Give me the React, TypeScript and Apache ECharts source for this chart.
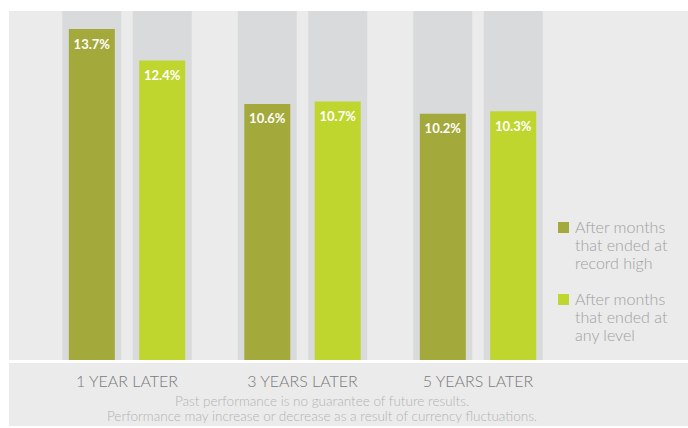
import React, { useEffect, useRef } from "react";
import * as echarts from "echarts";

const categories = ["1 YEAR LATER", "3 YEARS LATER", "5 YEARS LATER"];
const seriesNames = ["After months\nthat ended at\nrecord high", "After months\nthat ended at\nany level"];
const recordHigh = [13.7, 10.6, 10.2];
const anyLevel = [12.4, 10.7, 10.3];
const footnotes = [
  "Past performance is no guarantee of future results.",
  "Performance may increase or decrease as a result of currency fluctuations.",
];
const colors = ["#A3A93A", "#BFD62F"];
const yMax = 14.45;

export default function App() {
  const ref = useRef<HTMLDivElement>(null);
  useEffect(() => {
    document.body.style.margin = "0";
    const chart = echarts.init(ref.current!, null, { renderer: "svg" });
    const font = "Lato, 'Open Sans', sans-serif";
    const bgData = categories.map(() => yMax);
    chart.setOption({
      animation: false,
      graphic: [
        { type: "rect", z: -10, shape: { x: 9, y: 11, width: 679, height: 349 }, style: { fill: "#EBEBEB" } },
        { type: "rect", z: -10, shape: { x: 9, y: 363, width: 679, height: 63 }, style: { fill: "#EBEBEB" } },
        ...footnotes.map((t, i) => ({
          type: "text",
          x: 322,
          y: 401 + i * 15,
          style: { text: t, fill: "#B3B3B3", font: `300 13.5px ${font}`, textAlign: "center", textVerticalAlign: "middle" },
        })),
        ...seriesNames.map((n, i) => ({
          type: "group",
          children: [
            { type: "rect", shape: { x: 558, y: 222 + i * 72, width: 11, height: 11 }, style: { fill: colors[i] } },
            {
              type: "text",
              x: 575,
              y: 217 + i * 72,
              style: { text: n, fill: "#A0A0A0", font: `300 16px ${font}`, lineHeight: 18, textVerticalAlign: "top" },
            },
          ],
        })),
      ],
      grid: { left: 39.25, width: 526.5, top: 11, height: 349 },
      xAxis: [
        {
          type: "category",
          data: categories,
          axisLine: { show: false },
          axisTick: { show: false },
          axisLabel: { color: "#7A7A7A", fontSize: 16, fontWeight: 300, fontFamily: font, margin: 12 },
        },
        { type: "category", data: categories, show: false },
      ],
      yAxis: { type: "value", min: 0, max: yMax, show: false, splitLine: { show: false } },
      series: [
        { type: "bar", xAxisIndex: 0, data: bgData, barWidth: 59, barGap: "19.5%", itemStyle: { color: "#D9DADC" }, silent: true },
        { type: "bar", xAxisIndex: 0, data: bgData, barWidth: 59, barGap: "19.5%", itemStyle: { color: "#D9DADC" }, silent: true },
        ...[recordHigh, anyLevel].map((d, i) => ({
          type: "bar",
          name: seriesNames[i],
          xAxisIndex: 1,
          data: d,
          barWidth: 46,
          barGap: "53%",
          itemStyle: { color: colors[i] },
          label: {
            show: true,
            position: "insideTop",
            distance: 8,
            formatter: "{c}%",
            color: "#FFFFFF",
            fontWeight: "bold",
            fontSize: 13,
            fontFamily: font,
          },
        })),
      ],
    });
    return () => chart.dispose();
  }, []);
  return <div ref={ref} style={{ width: 688, height: 428 }} />;
}
